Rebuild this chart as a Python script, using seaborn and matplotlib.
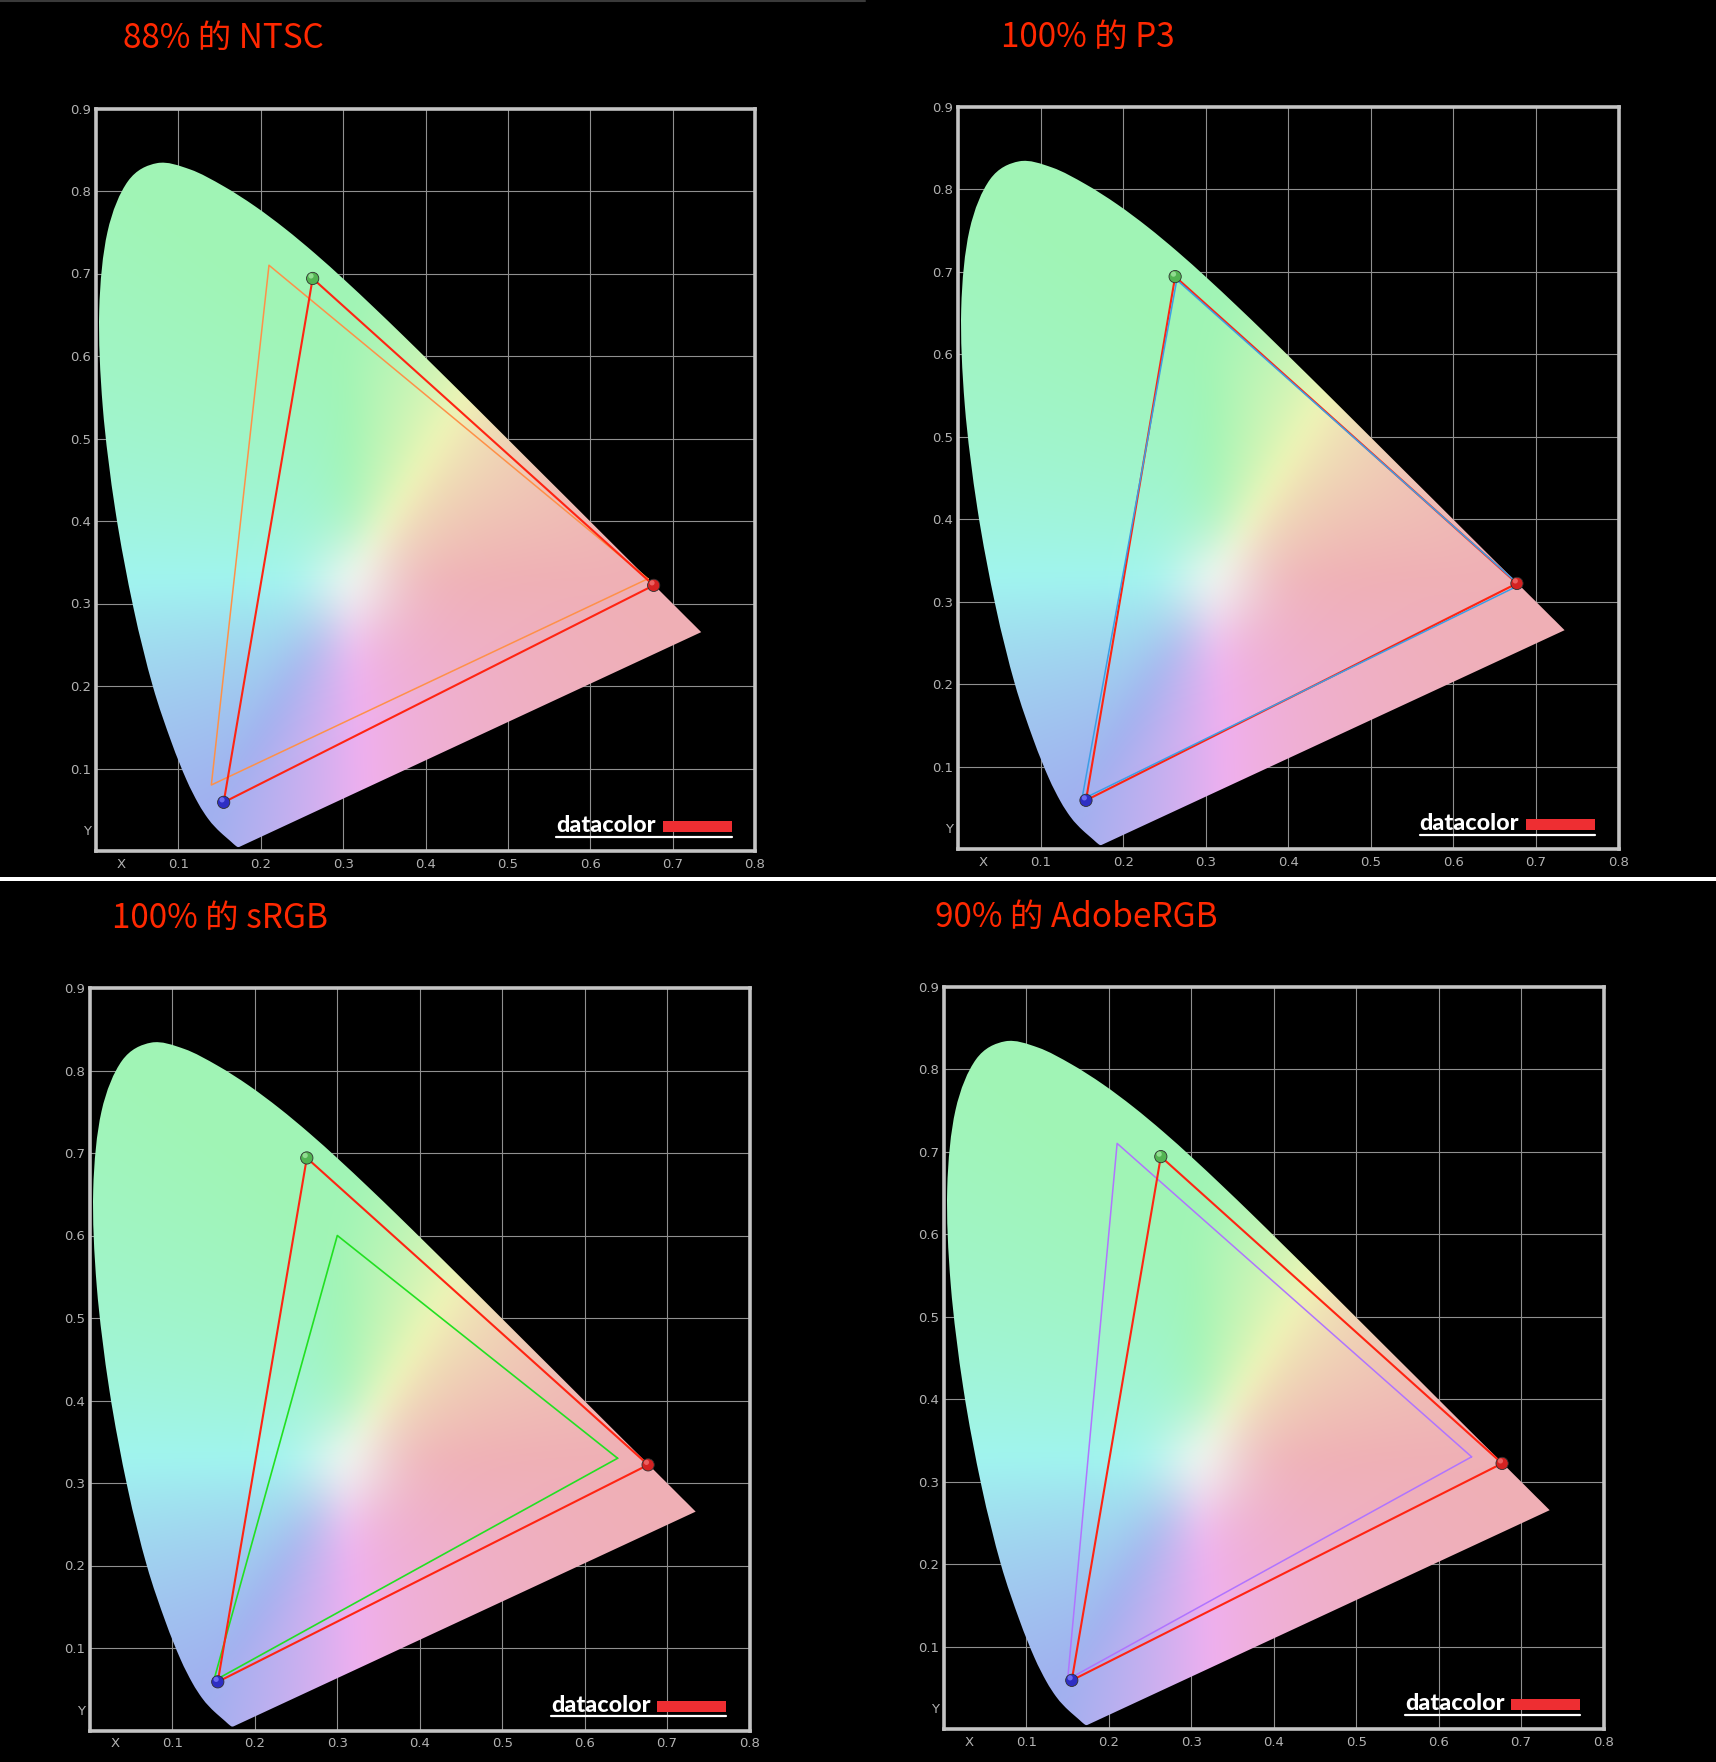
import numpy as np
import pandas as pd
import matplotlib
matplotlib.use("Agg")
import matplotlib.pyplot as plt
import seaborn as sns
from matplotlib.patches import Rectangle, PathPatch
from matplotlib.path import Path
from matplotlib.lines import Line2D

# ---------------- data ----------------
# CIE 1931 2° spectral locus (380-700 nm)
locus_x = [0.1741, 0.1740, 0.1738, 0.1736, 0.1733, 0.1730, 0.1726, 0.1721, 0.1714,
           0.1703, 0.1689, 0.1669, 0.1644, 0.1611, 0.1566, 0.1510, 0.1440, 0.1355,
           0.1241, 0.1096, 0.0913, 0.0687, 0.0454, 0.0235, 0.0082, 0.0039, 0.0139,
           0.0389, 0.0743, 0.1142, 0.1547, 0.1929, 0.2296, 0.2658, 0.3016, 0.3373,
           0.3731, 0.4087, 0.4441, 0.4788, 0.5125, 0.5448, 0.5752, 0.6029, 0.6270,
           0.6482, 0.6658, 0.6801, 0.6915, 0.7006, 0.7079, 0.7140, 0.7190, 0.7230,
           0.7260, 0.7283, 0.7300, 0.7311, 0.7320, 0.7334, 0.7347]
locus_y = [0.0050, 0.0050, 0.0049, 0.0049, 0.0048, 0.0048, 0.0048, 0.0048, 0.0051,
           0.0058, 0.0069, 0.0086, 0.0109, 0.0138, 0.0177, 0.0227, 0.0297, 0.0399,
           0.0578, 0.0868, 0.1327, 0.2007, 0.2950, 0.4127, 0.5384, 0.6548, 0.7502,
           0.8120, 0.8338, 0.8262, 0.8059, 0.7816, 0.7543, 0.7243, 0.6923, 0.6589,
           0.6245, 0.5896, 0.5547, 0.5202, 0.4866, 0.4544, 0.4242, 0.3965, 0.3725,
           0.3514, 0.3340, 0.3197, 0.3083, 0.2993, 0.2920, 0.2859, 0.2809, 0.2770,
           0.2740, 0.2717, 0.2700, 0.2689, 0.2680, 0.2666, 0.2653]

# measured display primaries (R, G, B)
display_x = [0.677, 0.263, 0.155]
display_y = [0.322, 0.694, 0.059]

# reference gamuts (R, G, B)
ntsc_x = [0.670, 0.210, 0.140]
ntsc_y = [0.330, 0.710, 0.080]
p3_x = [0.680, 0.265, 0.150]
p3_y = [0.320, 0.690, 0.060]
srgb_x = [0.640, 0.300, 0.150]
srgb_y = [0.330, 0.600, 0.060]
adobe_x = [0.640, 0.210, 0.150]
adobe_y = [0.330, 0.710, 0.060]

white_point = (0.312, 0.324)

titles = ["88% 的 NTSC", "100% 的 P3", "100% 的 sRGB", "90% 的 AdobeRGB"]

grid_x = [0.1, 0.2, 0.3, 0.4, 0.5, 0.6, 0.7]
grid_y = [0.1, 0.2, 0.3, 0.4, 0.5, 0.6, 0.7, 0.8]
xtick_pos = [0.03, 0.1, 0.2, 0.3, 0.4, 0.5, 0.6, 0.7, 0.8]
xtick_labels = ["X", "0.1", "0.2", "0.3", "0.4", "0.5", "0.6", "0.7", "0.8"]
ytick_pos = [0.025, 0.1, 0.2, 0.3, 0.4, 0.5, 0.6, 0.7, 0.8, 0.9]
ytick_labels = ["Y", "0.1", "0.2", "0.3", "0.4", "0.5", "0.6", "0.7", "0.8", "0.9"]

# ---------------- style ----------------
sns.set_theme(style="dark", rc={"axes.facecolor": "black", "figure.facecolor": "black",
                                "savefig.facecolor": "black"})
plt.rcParams["font.family"] = ["Noto Sans CJK SC", "DejaVu Sans"]

W, H = 1716, 1762
fig = plt.figure(figsize=(W / 100, H / 100), dpi=100)
fig.patch.set_facecolor("black")


def fx(px):
    return px / W


def fy(py):
    return 1 - py / H


# panel frames in pixels: left, top, right, bottom
panels = [
    (96, 108.5, 755, 851),
    (958, 106.7, 1618.5, 849),
    (90, 988, 749.5, 1730.5),
    (944, 986.7, 1603.5, 1729),
]
title_pos = [(123, 38.7), (1001, 37.5), (112, 918), (935, 917)]
standards = [
    (ntsc_x, ntsc_y, "#ff9048", 1.1),
    (p3_x, p3_y, "#3c9ee6", 1.1),
    (srgb_x, srgb_y, "#22e022", 1.2),
    (adobe_x, adobe_y, "#b074ff", 1.1),
]
std_on_top = [False, True, False, False]

# chromaticity background image
nx, ny = 800, 900
gx = np.linspace(0, 0.8, nx)
gy = np.linspace(0.0005, 0.9, ny)
X_, Y_ = np.meshgrid(gx, gy)
Xc = X_ / Y_
Yc = np.ones_like(X_)
Zc = (1 - X_ - Y_) / Y_
R = 3.2406 * Xc - 1.5372 * Yc - 0.4986 * Zc
G = -0.9689 * Xc + 1.8758 * Yc + 0.0415 * Zc
B = 0.0557 * Xc - 0.2040 * Yc + 1.0570 * Zc
rgb = np.clip(np.stack([R, G, B], axis=-1), 0, None)
mx = rgb.max(axis=-1, keepdims=True)
mx[mx == 0] = 1
rgb = rgb / mx
mn = rgb.min(axis=-1, keepdims=True)
sat = np.clip(1 - mn, 1e-6, 1)
sat_new = 1 - (1 - sat) ** 2.2
rgb = 1 - (1 - rgb) * (sat_new / sat)
rgb = np.clip(rgb, 0, 1)


def box_blur(a, r, axis):
    pad = [(0, 0)] * a.ndim
    pad[axis] = (r + 1, r)
    ap = np.pad(a, pad, mode="edge")
    c = np.cumsum(ap, axis=axis)
    hi = np.take(c, np.arange(2 * r + 1, c.shape[axis]), axis=axis)
    lo = np.take(c, np.arange(0, c.shape[axis] - 2 * r - 1), axis=axis)
    return (hi - lo) / (2 * r + 1)


for _ in range(3):
    rgb = box_blur(rgb, 12, 0)
    rgb = box_blur(rgb, 12, 1)

dist = np.hypot(X_ - white_point[0], Y_ - white_point[1])
glow = (0.5 * np.exp(-(dist / 0.06) ** 2))[..., None]
rgb = rgb * (1 - glow) + glow

base = np.array([0.63, 0.69, 0.71])
span = np.array([0.31, 0.27, 0.23])
img = np.clip(base + span * rgb, 0, 1)

# smooth closed outline of the locus (Catmull-Rom -> Bezier)
pts = np.column_stack([locus_x, locus_y])
n = len(pts)
verts = [pts[0]]
codes = [Path.MOVETO]
for k in range(n - 1):
    p0 = pts[max(k - 1, 0)]
    p1 = pts[k]
    p2 = pts[k + 1]
    p3 = pts[min(k + 2, n - 1)]
    c1 = p1 + (p2 - p0) / 6.0
    c2 = p2 - (p3 - p1) / 6.0
    verts += [c1, c2, p2]
    codes += [Path.CURVE4] * 3
verts.append(pts[0])
codes.append(Path.CLOSEPOLY)
locus_path = Path(np.array(verts), codes)

for i, (l, t, r, b) in enumerate(panels):
    ax = fig.add_axes([fx(l), fy(b), fx(r - l), (b - t) / H])
    ax.set_facecolor("black")

    # grid
    for gv in grid_x:
        ax.axvline(gv, color="#909090", lw=0.8, zorder=1)
    for gv in grid_y:
        ax.axhline(gv, color="#909090", lw=0.8, zorder=1)
    ax.grid(False)

    # horseshoe
    patch = PathPatch(locus_path, transform=ax.transData, facecolor="none", edgecolor="none")
    ax.add_patch(patch)
    im = ax.imshow(img, extent=(0, 0.8, 0.0005, 0.9), origin="lower",
                   interpolation="bilinear", aspect="auto", zorder=2)
    im.set_clip_path(patch)

    # triangles
    sx, sy, scol, slw = standards[i]
    std_df = pd.DataFrame({"x": sx + sx[:1], "y": sy + sy[:1]})
    dsp_df = pd.DataFrame({"x": display_x + display_x[:1], "y": display_y + display_y[:1]})
    z_std = 5 if std_on_top[i] else 3
    sns.lineplot(data=std_df, x="x", y="y", sort=False, estimator=None, ax=ax,
                 color=scol, lw=slw, zorder=z_std)
    sns.lineplot(data=dsp_df, x="x", y="y", sort=False, estimator=None, ax=ax,
                 color="#ff2412", lw=1.5, zorder=4)

    # primary dots
    dots = pd.DataFrame({"x": display_x, "y": display_y, "c": ["r", "g", "b"]})
    sns.scatterplot(data=dots, x="x", y="y", hue="c",
                    palette={"r": "#d42222", "g": "#52b452", "b": "#2e2ec4"},
                    s=78, edgecolor="#303030", linewidth=0.6, ax=ax, legend=False, zorder=6)
    hl = pd.DataFrame({"x": [v - 0.002 for v in display_x], "y": [v + 0.003 for v in display_y],
                       "c": ["r", "g", "b"]})
    sns.scatterplot(data=hl, x="x", y="y", hue="c",
                    palette={"r": "#f07070", "g": "#a0e8a0", "b": "#7a7aff"},
                    s=14, edgecolor="none", ax=ax, legend=False, zorder=7, alpha=0.8)

    ax.set_xlim(0, 0.8)
    ax.set_ylim(0, 0.9)
    ax.set_xlabel("")
    ax.set_ylabel("")
    ax.set_xticks(xtick_pos)
    ax.set_xticklabels(xtick_labels)
    ax.set_yticks(ytick_pos)
    ax.set_yticklabels(ytick_labels)
    ax.tick_params(which="both", length=0)
    ax.tick_params(axis="x", pad=5, labelsize=9.5, labelcolor="#b2b2b2")
    ax.tick_params(axis="y", pad=3.5, labelsize=9.5, labelcolor="#b2b2b2")
    for lab in ax.get_xticklabels() + ax.get_yticklabels():
        lab.set_family("DejaVu Sans")
    for s in ax.spines.values():
        s.set_visible(True)
        s.set_color("#c4c4c4")
        s.set_linewidth(2.6)
        s.set_zorder(10)

    # datacolor logo
    ax.text(0.559, 0.0225, "datacolor", transform=ax.transData, color="white",
            fontsize=16.8, fontweight="black", family=["Lato", "DejaVu Sans"],
            ha="left", va="baseline", zorder=8)
    ax.add_patch(Rectangle((0.688, 0.0225), 0.084, 0.0135, transform=ax.transData,
                           facecolor="#ee2e32", edgecolor="none", zorder=8))
    ax.add_line(Line2D([0.559, 0.772], [0.0175, 0.0175], color="white", lw=1.6, zorder=8))

    # title
    tx, ty = title_pos[i]
    fig.text(fx(tx), fy(ty), titles[i], color="#ff2800", fontsize=24,
             ha="left", va="center")

# separator & top edge
fig.patches.append(Rectangle((0, fy(881)), 1, 4 / H, transform=fig.transFigure,
                             facecolor="white", edgecolor="none"))
fig.lines.append(Line2D([0, fx(865)], [fy(1), fy(1)], transform=fig.transFigure,
                        color="#3a3a3a", lw=1.5))

fig.savefig("out.png", dpi=100, facecolor="black")
